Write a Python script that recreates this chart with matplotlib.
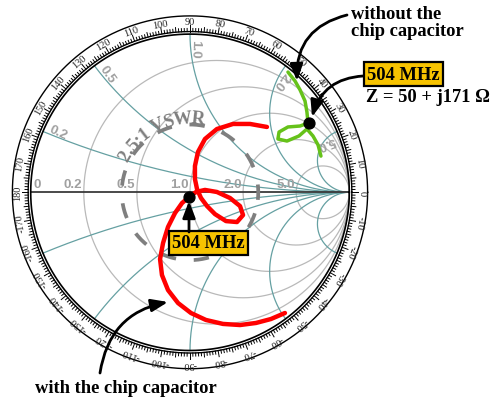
import numpy as np
import matplotlib
matplotlib.use("Agg")
import matplotlib.pyplot as plt
from matplotlib.patches import FancyArrowPatch
from matplotlib.font_manager import FontProperties

# ---------------------------------------------------------------- data
Z0 = 50.0
resistance_values = [0.2, 0.5, 1.0, 2.0, 5.0]
reactance_values = [0.2, 0.5, 1.0, 2.0, 5.0]
axis_label_values = [0.0, 0.2, 0.5, 1.0, 2.0, 5.0]
axis_label_text = ["0", "0.2", "0.5", "1.0", "2.0", "5.0"]
reactance_label_text = ["0.2", "0.5", "1.0", "2.0", "5.0"]
angle_label_values = list(range(-170, 181, 10))
vswr_value = 2.5
vswr_text = "2.5:1 VSWR"

# reflection coefficient sweep, antenna with the chip capacitor
with_cap_re = [0.483, 0.377, 0.270, 0.169, 0.094, 0.050, 0.031, 0.031, 0.044,
               0.069, 0.107, 0.157, 0.226, 0.295, 0.333, 0.314, 0.251, 0.169,
               0.094, 0.038, -0.006, -0.050, -0.094, -0.138, -0.169, -0.188,
               -0.176, -0.138, -0.075, 0.006, 0.100, 0.207, 0.314, 0.414,
               0.508, 0.596]
with_cap_im = [0.413, 0.432, 0.432, 0.400, 0.337, 0.255, 0.166, 0.084, 0.021,
               -0.036, -0.087, -0.138, -0.182, -0.188, -0.144, -0.087, -0.036,
               0.002, 0.015, 0.002, -0.030, -0.068, -0.131, -0.219, -0.320,
               -0.422, -0.523, -0.618, -0.700, -0.763, -0.807, -0.832, -0.839,
               -0.826, -0.801, -0.763]

# reflection coefficient sweep, antenna without the chip capacitor
without_cap_re = [0.615, 0.659, 0.691, 0.722, 0.734, 0.741, 0.691, 0.615, 0.559,
                  0.552, 0.609, 0.684, 0.734, 0.772, 0.804, 0.822]
without_cap_im = [0.760, 0.704, 0.647, 0.577, 0.508, 0.438, 0.419, 0.413, 0.381,
                  0.337, 0.324, 0.356, 0.400, 0.356, 0.299, 0.229]

# impedances at 504 MHz (ohms)
z_504_without = 50 + 171j
z_504_with = 49.6 - 2.7j
marker_freq_text = "504 MHz"
impedance_text = "Z = 50 + j171 \u03a9"
without_text = "without the\nchip capacitor"
with_text = "with the chip capacitor"

# ---------------------------------------------------------------- layout
W, H, DPI = 491, 402, 100
CX, CY = 190.0, 193.3          # chart centre in pixels
SX, SY = 159.3, 158.2          # pixels per unit reflection coefficient

fig = plt.figure(figsize=(W / DPI, H / DPI), dpi=DPI)
ax = fig.add_axes([0, 0, 1, 1])
ax.set_xlim(-CX / SX, (W - CX) / SX)
ax.set_ylim(-(H - CY) / SY, CY / SY)
ax.set_aspect("auto")
ax.axis("off")


def px(x, y):
    """pixel position (from top-left) to data coordinates"""
    return ((x - CX) / SX, (CY - y) / SY)


def gamma(z):
    return (z - 1) / (z + 1)


TEAL = "#65a0a2"
GRID_GRAY = "#b9b9b9"
LABEL_GRAY = "#a0a0a0"
VSWR_GRAY = "#7f7f7f"
GOLD = "#f7c300"
SERIF = "Liberation Serif"
ANN_SIZE = 13.3

t = np.linspace(0, 2 * np.pi, 721)

# resistance circles
for r in resistance_values:
    c, rad = r / (1 + r), 1 / (1 + r)
    ax.plot(c + rad * np.cos(t), rad * np.sin(t), color=GRID_GRAY, lw=0.9, zorder=1)

# reactance arcs
rr = np.tan(np.linspace(0, np.pi / 2 - 1e-4, 800))
for x in reactance_values:
    for s in (1, -1):
        g = gamma(rr + 1j * s * x)
        ax.plot(g.real, g.imag, color=TEAL, lw=0.9, zorder=1.1)

# real axis
ax.plot([-1, 1], [0, 0], color="#3a3a3a", lw=1.3, zorder=2)

# chart boundary and angle scale
for R, lw in ((1.0, 1.2), (1.016, 1.0), (1.115, 1.0)):
    ax.plot(R * np.cos(t), R * np.sin(t), color="black", lw=lw, zorder=2)

for deg in range(-179, 181):
    a = np.deg2rad(deg)
    if deg % 10 == 0:
        r2 = 1.055
    elif deg % 5 == 0:
        r2 = 1.045
    else:
        r2 = 1.036
    ax.plot([1.016 * np.cos(a), r2 * np.cos(a)], [1.016 * np.sin(a), r2 * np.sin(a)],
            color="black", lw=0.7, zorder=2)

for deg in angle_label_values:
    a = np.deg2rad(deg)
    ax.text(1.082 * np.cos(a), 1.082 * np.sin(a), str(deg), rotation=deg - 90,
            ha="center", va="center", rotation_mode="anchor",
            fontsize=7.4, family=SERIF, color="#222222", zorder=3)

# resistance labels on the real axis
for v, s in zip(axis_label_values, axis_label_text):
    g = gamma(v)
    if v == 0:
        ax.text(g + 0.015, 0.012, s, ha="left", va="bottom", fontsize=9.5,
                fontweight="bold", color=LABEL_GRAY, family="Liberation Sans", zorder=3)
    else:
        ax.text(g - 0.01, 0.012, s, ha="right", va="bottom", fontsize=9.5,
                fontweight="bold", color=LABEL_GRAY, family="Liberation Sans", zorder=3)

# reactance labels near the rim
for x, s in zip(reactance_values, reactance_label_text):
    g = gamma(1j * x)
    ang = np.angle(g, deg=True) - 2.0
    a = np.deg2rad(ang)
    ax.text(0.91 * np.cos(a), 0.91 * np.sin(a), s, rotation=ang - 180,
            ha="center", va="center", rotation_mode="anchor", fontsize=9.5,
            fontweight="bold", color=LABEL_GRAY, family="Liberation Sans", zorder=3)

# 2.5:1 VSWR circle
rho = (vswr_value - 1) / (vswr_value + 1)
start = np.deg2rad(-6.4)
ax.plot(rho * np.cos(t + start), rho * np.sin(t + start), color=VSWR_GRAY, lw=2.7,
        dashes=(4.1, 4.75), zorder=3, dash_capstyle="butt")

fig.canvas.draw()
renderer = fig.canvas.get_renderer()
fp = FontProperties(family=SERIF, weight="bold", size=13.5)


def text_w(s):
    if not s:
        return 0.0
    return renderer.get_text_width_height_descent(s, fp, ismath=False)[0]


total = text_w(vswr_text)
R_base = 0.44
R_text_px = (R_base + 0.035) * SX
mid_angle = 116.0
for i, ch in enumerate(vswr_text):
    if ch == " ":
        continue
    left = text_w(vswr_text[:i])
    right = text_w(vswr_text[:i + 1])
    s_mid = 0.5 * (left + right) - total / 2
    ang = mid_angle - np.rad2deg(s_mid / R_text_px)
    a = np.deg2rad(ang)
    ax.text(R_base * np.cos(a), R_base * np.sin(a), ch, rotation=ang - 90,
            ha="center", va="baseline", rotation_mode="anchor",
            fontproperties=fp, color=VSWR_GRAY, zorder=3)

# impedance sweeps
ax.plot(with_cap_re, with_cap_im, color="#ff0000", lw=3.2, zorder=4,
        solid_capstyle="round", solid_joinstyle="round")
ax.plot(without_cap_re, without_cap_im, color="#66c21a", lw=2.5, zorder=4,
        solid_capstyle="round", solid_joinstyle="round")

g_without = gamma(z_504_without / Z0)
g_with = gamma(z_504_with / Z0)
ax.plot([g_without.real, g_with.real], [g_without.imag, g_with.imag], "o",
        color="black", ms=7.8, zorder=5)

# annotations
box = dict(boxstyle="square,pad=0.17", fc=GOLD, ec="black", lw=1.6)
ax.text(*px(403.5, 75), marker_freq_text, ha="center", va="center", fontsize=ANN_SIZE,
        fontweight="bold", family=SERIF, bbox=box, zorder=6)
ax.text(*px(366, 97), impedance_text, ha="left", va="center", fontsize=ANN_SIZE,
        fontweight="bold", family=SERIF, zorder=6)
ax.text(*px(208.5, 244), marker_freq_text, ha="center", va="center", fontsize=ANN_SIZE,
        fontweight="bold", family=SERIF, bbox=box, zorder=6)
ax.text(*px(351, 23), without_text, ha="left", va="center", fontsize=ANN_SIZE,
        fontweight="bold", family=SERIF, linespacing=0.95, zorder=6)
ax.text(*px(126, 389), with_text, ha="center", va="center", fontsize=ANN_SIZE,
        fontweight="bold", family=SERIF, zorder=6)


def arrow(p0, p1, rad):
    ax.add_patch(FancyArrowPatch(px(*p0), px(*p1), connectionstyle=f"arc3,rad={rad}",
                                 arrowstyle="-|>,head_length=1.0,head_width=0.38",
                                 mutation_scale=10, lw=2.0, color="black",
                                 shrinkA=0, shrinkB=0, zorder=6))


arrow((347, 16), (297, 82), 0.4)
arrow((363, 77), (312, 118), 0.35)
arrow((100, 374), (168, 303), -0.35)
arrow((189, 233), (189, 202), 0.0)

fig.savefig("out.png", dpi=DPI)
